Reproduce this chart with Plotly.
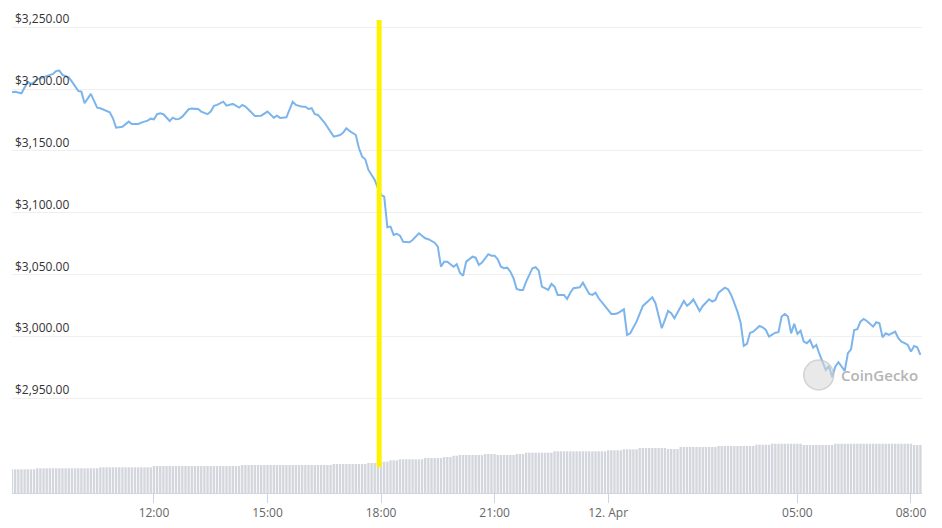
"""
ETH price, last 24h (CoinGecko-style chart) with volume bars underneath
"""

import pandas as pd
import plotly.graph_objects as go

# ============================================================================
# DATA
# ============================================================================
# price samples (USD), 11 Apr 2022
times_apr11 = [
    "08:15", "08:20", "08:30", "08:35", "08:40", "08:45", "08:50", "08:55",
    "09:05", "09:15", "09:20", "09:25", "09:30", "09:35", "09:45", "09:50", "09:55",
    "10:00", "10:05", "10:10", "10:20", "10:30", "10:35", "10:45", "10:50", "10:55",
    "11:00", "11:10", "11:20", "11:25", "11:35", "11:40", "11:50", "11:55",
    "12:00", "12:05", "12:10", "12:15", "12:25", "12:30", "12:35", "12:40", "12:45", "12:55",
    "13:00", "13:10", "13:15", "13:25", "13:30", "13:35", "13:40", "13:50", "13:55",
    "14:05", "14:15", "14:20", "14:25", "14:35", "14:40", "14:50",
    "15:00", "15:10", "15:15", "15:20", "15:30", "15:40", "15:45", "15:55",
    "16:00", "16:05", "16:10", "16:15", "16:20", "16:30", "16:35", "16:45", "16:55",
    "17:00", "17:05", "17:10", "17:20", "17:25", "17:30", "17:35", "17:40", "17:50", "17:55",
    "18:00", "18:05", "18:10", "18:15", "18:20", "18:25", "18:30", "18:35", "18:45", "18:50",
    "19:00", "19:10", "19:15", "19:25", "19:30", "19:35", "19:40", "19:45", "19:50", "19:55",
    "20:00", "20:05", "20:10", "20:15", "20:25", "20:30", "20:35", "20:40", "20:50", "20:55",
    "21:00", "21:05", "21:10", "21:15", "21:20", "21:25", "21:30", "21:35", "21:40", "21:45", "21:50",
    "22:00", "22:05", "22:10", "22:15", "22:20", "22:25", "22:30", "22:35", "22:40", "22:50", "22:55",
    "23:00", "23:05", "23:15", "23:20", "23:25", "23:30", "23:35", "23:40", "23:45", "23:55",
]
prices_apr11 = [
    3197.4, 3197.9, 3196.6, 3202.0, 3206.0, 3204.1, 3205.5, 3207.9,
    3209.5, 3211.4, 3212.2, 3214.6, 3214.9, 3211.4, 3209.5, 3206.0, 3202.0,
    3198.5, 3197.9, 3188.5, 3196.1, 3185.0, 3184.5, 3182.6, 3181.3, 3176.4,
    3168.8, 3169.6, 3173.7, 3171.8, 3171.8, 3172.9, 3174.5, 3176.1,
    3175.6, 3179.7, 3180.5, 3179.7, 3174.2, 3176.9, 3175.6, 3175.9, 3177.7, 3183.7,
    3184.2, 3183.9, 3181.8, 3179.7, 3181.8, 3186.4, 3187.2, 3189.8, 3186.6,
    3188.0, 3185.0, 3187.2, 3185.8, 3180.9, 3178.3, 3178.5,
    3181.8, 3176.9, 3178.5, 3176.7, 3177.2, 3189.8, 3187.2, 3185.8,
    3185.8, 3183.9, 3184.5, 3179.7, 3179.1, 3173.2, 3169.6, 3161.6, 3162.9,
    3164.8, 3168.3, 3166.2, 3162.9, 3152.2, 3145.4, 3143.3, 3134.7, 3126.6, 3119.9,
    3114.5, 3113.1, 3088.4, 3088.9, 3082.2, 3083.0, 3081.6, 3076.7, 3076.3, 3078.1,
    3083.5, 3079.5, 3078.7, 3075.9, 3072.7, 3056.5, 3060.6, 3060.6, 3058.5, 3056.5,
    3058.5, 3051.7, 3049.1, 3060.6, 3064.6, 3063.8, 3057.9, 3059.8, 3066.6, 3065.4,
    3065.4, 3062.5, 3056.5, 3055.3, 3055.7, 3052.5, 3047.2, 3038.5, 3037.7, 3037.7, 3044.4,
    3055.3, 3056.1, 3053.3, 3040.4, 3039.1, 3037.7, 3042.6, 3040.4, 3033.7, 3033.7, 3030.5,
    3035.5, 3039.1, 3039.9, 3043.6, 3039.1, 3034.5, 3033.7, 3035.5, 3031.0, 3024.8,
]

# 12 Apr 2022
times_apr12 = [
    "00:05", "00:10", "00:15", "00:25", "00:30", "00:35", "00:40", "00:45", "00:55",
    "01:00", "01:10", "01:15", "01:25", "01:30", "01:35", "01:40", "01:45", "01:55",
    "02:00", "02:05", "02:10", "02:15", "02:20", "02:25", "02:30", "02:40", "02:45", "02:50", "02:55",
    "03:00", "03:05", "03:10", "03:15", "03:20", "03:25", "03:30", "03:35", "03:40", "03:45", "03:50",
    "04:00", "04:05", "04:10", "04:15", "04:20", "04:25", "04:30", "04:35", "04:40", "04:45", "04:50", "04:55",
    "05:00", "05:05", "05:10", "05:15", "05:20", "05:25", "05:30", "05:35", "05:45", "05:50", "05:55",
    "06:00", "06:05", "06:10", "06:15", "06:20", "06:25", "06:30", "06:35", "06:40", "06:45", "06:50",
    "07:00", "07:05", "07:10", "07:15", "07:20", "07:25", "07:35", "07:40", "07:45", "07:50", "07:55",
    "08:00", "08:05", "08:10", "08:15",
]
prices_apr12 = [
    3018.3, 3018.3, 3018.9, 3022.1, 3001.4, 3002.7, 3007.6, 3012.1, 3024.8,
    3027.0, 3031.8, 3027.0, 3006.8, 3013.5, 3020.8, 3018.9, 3014.9, 3024.2,
    3028.8, 3025.0, 3027.0, 3030.2, 3024.8, 3020.8, 3024.8, 3030.2, 3028.3, 3029.6, 3035.5,
    3037.2, 3039.6, 3038.3, 3033.7, 3027.0, 3020.2, 3011.3, 2992.5, 2994.1, 3003.2, 3004.0,
    3008.6, 3007.6, 3005.4, 3000.0, 3001.4, 3003.2, 3003.6, 3016.2, 3018.3, 3016.2, 3002.7, 3010.3,
    3002.2, 3004.8, 2996.0, 2994.7, 2997.3, 2991.1, 2993.3, 2985.8, 2973.1, 2976.3, 2967.2,
    2975.8, 2979.3, 2975.3, 2972.3, 2986.6, 2989.8, 3005.4, 3006.0, 3012.1, 3014.3, 3012.7,
    3008.1, 3011.6, 3010.8, 2999.5, 3002.7, 3001.4, 3004.0, 2998.7, 2996.0, 2994.7, 2993.3,
    2987.9, 2992.5, 2991.4, 2985.2,
]

# 24h volume (USD bn), 5-minute bars, stored as runs of equal height
vol_start = "2022-04-11 08:15"
vol_counts = [8, 20, 17, 28, 29, 11, 4, 3, 3, 8, 6, 3, 2, 8, 4,
              6, 3, 9, 17, 5, 5, 9, 4, 12, 12, 5, 10, 10, 25, 4]
vol_values = [11.85, 12.35, 12.85, 13.5, 14.0, 14.5, 15.0, 15.65, 16.35, 16.85, 17.5, 18.0, 18.65, 19.0, 19.5,
              19.0, 19.5, 20.15, 20.85, 21.35, 21.85, 22.5, 22.0, 23.0, 23.5, 24.15, 24.65, 24.0, 24.65, 24.0]

# axis ticks
price_ticks = [2950, 3000, 3050, 3100, 3150, 3200, 3250]
time_ticks = ["2022-04-11 12:00", "2022-04-11 15:00", "2022-04-11 18:00", "2022-04-11 21:00",
              "2022-04-12 00:00", "2022-04-12 05:00", "2022-04-12 08:00"]
time_labels = ["12:00", "15:00", "18:00", "21:00", "12. Apr", "05:00", "08:00"]
marker_time = "2022-04-11 17:57"

assert len(times_apr11) == len(prices_apr11)
assert len(times_apr12) == len(prices_apr12)

price_time = ["2022-04-11 " + t for t in times_apr11] + ["2022-04-12 " + t for t in times_apr12]
price = prices_apr11 + prices_apr12

vol_time = pd.date_range(vol_start, periods=sum(vol_counts), freq="5min")
volume = []
for n, v in zip(vol_counts, vol_values):
    volume += [v] * n

# ============================================================================
# FIGURE
# ============================================================================
FONT = "Open Sans, Noto Sans, DejaVu Sans, sans-serif"

fig = go.Figure()

fig.add_trace(go.Bar(
    x=vol_time,
    y=volume,
    yaxis="y2",
    marker=dict(color="#d3d6dc", line=dict(width=0)),
    hovertemplate="%{x}<br>Vol: $%{y:.2f}B<extra></extra>",
))

fig.add_trace(go.Scatter(
    x=price_time,
    y=price,
    mode="lines",
    line=dict(color="#7cb5ec", width=2),
    hovertemplate="%{x}<br>$%{y:,.2f}<extra></extra>",
))

# yellow marker line at 18:00
fig.add_shape(
    type="line", xref="x", yref="paper",
    x0=marker_time, x1=marker_time, y0=0.055, y1=1.0,
    line=dict(color="#fff200", width=5),
    layer="above",
)

# CoinGecko watermark
fig.add_shape(
    type="circle", xref="paper", yref="paper",
    x0=0.870, x1=0.903, y0=0.218, y1=0.281,
    fillcolor="rgba(215,215,215,0.55)",
    line=dict(color="rgba(190,190,190,0.6)", width=1.5),
    layer="above",
)
fig.add_annotation(
    text="CoinGecko", xref="paper", yref="paper",
    x=0.909, y=0.249, xanchor="left", yanchor="middle",
    showarrow=False,
    font=dict(family=FONT, size=15, color="#b4b4b4", weight=600),
)

# page body has an 8px margin, so the figure is a bit smaller than the window
fig.update_layout(
    width=934,
    height=520,
    margin=dict(l=4, r=20, t=12, b=35),
    plot_bgcolor="white",
    paper_bgcolor="white",
    showlegend=False,
    bargap=0.25,
    font=dict(family=FONT, size=12, color="#333333"),
    xaxis=dict(
        type="date",
        range=["2022-04-11 08:15", "2022-04-12 08:17:30"],
        tickvals=time_ticks,
        ticktext=time_labels,
        ticks="outside",
        ticklen=9,
        tickcolor="#ccd6eb",
        showline=True,
        linecolor="#ccd6eb",
        linewidth=1,
        showgrid=False,
        zeroline=False,
        automargin=False,
        tickfont=dict(family=FONT, size=12, color="#666666"),
    ),
    yaxis=dict(
        range=[2873.7, 3255.8],
        tickvals=price_ticks,
        tickformat="$,.2f",
        ticklabelposition="inside top",
        ticklabeloverflow="allow",
        ticklabelstandoff=0,
        showgrid=True,
        gridcolor="#efefef",
        gridwidth=1,
        zeroline=False,
        showline=False,
        automargin=False,
        tickfont=dict(family=FONT, size=12, color="#333333"),
    ),
    yaxis2=dict(
        overlaying="y",
        range=[0, 236.5],
        visible=False,
        showgrid=False,
        automargin=False,
    ),
)

fig.write_html("out.html")
print("Saved: out.html")
